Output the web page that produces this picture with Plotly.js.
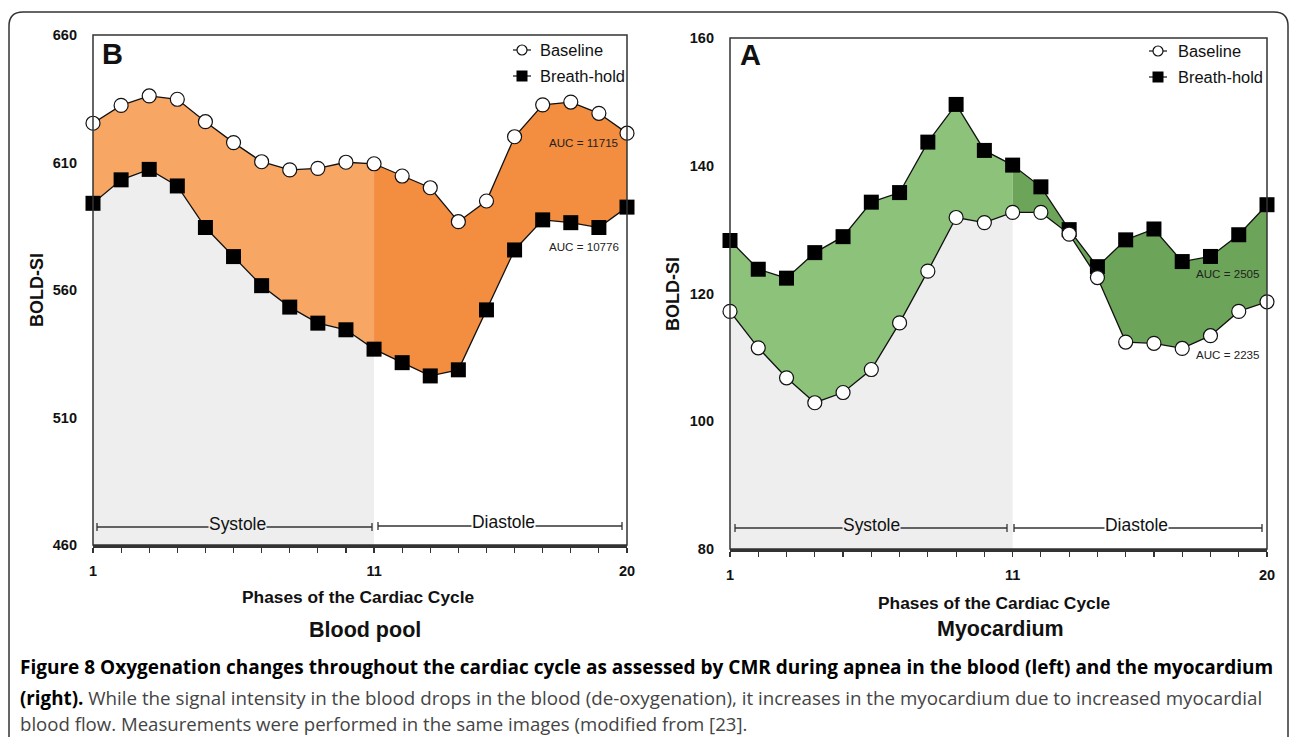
<!DOCTYPE html>
<html>
<head>
<meta charset="utf-8">
<script src="https://cdn.plot.ly/plotly-3.0.1.min.js"></script>
<style>
  html, body { margin: 0; padding: 0; background: #ffffff; }
  #chart { width: 1290px; height: 737px; }
</style>
</head>
<body>
<div id="chart"></div>
<script>
// ---- data ----
var phases = [1, 2, 3, 4, 5, 6, 7, 8, 9, 10, 11, 12, 13, 14, 15, 16, 17, 18, 19, 20];
var xTickLabels = ['1', '', '', '', '', '', '', '', '', '', '11', '', '', '', '', '', '', '', '', '20'];

var bloodBaseline   = [625.4, 632.4, 636.1, 634.8, 626.0, 617.8, 610.3, 607.1, 607.7, 610.1, 609.5, 604.7, 600.1, 586.8, 594.9, 620.1, 632.6, 633.7, 629.3, 621.5];
var bloodBreathHold = [594.0, 603.2, 607.3, 600.8, 584.5, 573.1, 561.7, 553.3, 547.0, 544.4, 536.8, 531.5, 526.3, 528.7, 552.2, 575.7, 587.5, 586.4, 584.5, 592.5];

var myoBaseline     = [117.2, 111.5, 106.8, 102.9, 104.5, 108.1, 115.4, 123.5, 131.9, 131.1, 132.7, 132.7, 129.3, 122.5, 112.4, 112.2, 111.4, 113.4, 117.2, 118.7];
var myoBreathHold   = [128.3, 123.8, 122.4, 126.4, 128.9, 134.3, 135.8, 143.7, 149.6, 142.4, 140.1, 136.7, 130.0, 124.2, 128.4, 130.1, 125.0, 125.8, 129.2, 133.9];

var bloodTicks = [460, 510, 560, 610, 660];
var myoTicks = [80, 100, 120, 140, 160];

var seriesNames = ['Baseline', 'Breath-hold'];
var aucBlood = ['AUC = 11715', 'AUC = 10776'];
var aucMyo = ['AUC = 2505', 'AUC = 2235'];

// ---- font selection: use a real condensed face if one exists, else Liberation Sans fitted to width ----
var ctx = document.createElement('canvas').getContext('2d');
function measure(text, family, weight, stretch, size) {
  ctx.font = (weight || 'normal') + ' ' + (size || 100) + 'px ' + family;
  try { ctx.fontStretch = stretch || 'normal'; } catch (e) {}
  return ctx.measureText(text).width;
}
var probe = 'Breath-hold Phases of the Cardiac Cycle 0123456789';
var baseFam = '"Liberation Sans", Arial, sans-serif';
var wBase = measure(probe, baseFam, 'normal', 'normal');
var FONT = {family: baseFam, stretch: 'normal'};
var condensed = false;
(function () {
  var wc = measure(probe, baseFam, 'normal', 'condensed');
  if (wc / wBase < 0.9 && wc / wBase > 0.7) { FONT = {family: baseFam, stretch: 'condensed'}; condensed = true; return; }
  var names = ['Liberation Sans Narrow', 'Arial Narrow'];
  for (var i = 0; i < names.length; i++) {
    var f = '"' + names[i] + '", "Liberation Sans", sans-serif';
    var r = measure(probe, f, 'normal', 'normal') / wBase;
    if (r > 0.75 && r < 0.88) { FONT = {family: f, stretch: 'normal'}; condensed = true; return; }
  }
})();
// with a normal-width face, enlarge a little beyond the width fit to approach the reference text height
function fit(text, weight, targetW, grow) {
  var g = condensed ? 1 : grow;
  return Math.round(100 * g * targetW / measure(text, FONT.family, weight, FONT.stretch) * 100) / 100;
}
var SZ = {
  tick: fit('660', 'bold', 22, 1.1),
  legend: fit('Breath-hold', 'normal', 81, 1.05),
  auc: fit('AUC = 11715', 'normal', 64, 1.08),
  phase: fit('Systole', 'normal', 53, 1.08),
  xtitle: fit('Phases of the Cardiac Cycle', 'bold', 215, 1.08)
};
function nf(size, color, weight) {
  return {family: FONT.family, stretch: FONT.stretch, size: size, color: color || '#111', weight: weight || 'normal'};
}
var SANS = '"Liberation Sans", Arial, sans-serif';
var CAP = '"Open Sans", "Noto Sans", sans-serif';

// ---- helpers ----
var W = 1290, H = 737;
function px(x) { return x / W; }
function py(y) { return 1 - y / H; }

var sysEnd = 11;
var sysX = phases.slice(0, sysEnd), diaX = phases.slice(sysEnd - 1);

function panelTraces(xa, ya, base, hold, lowerIsHold, cLight, cDark) {
  var lower = lowerIsHold ? hold : base;
  var upper = lowerIsHold ? base : hold;
  var inv = {width: 0, color: 'rgba(0,0,0,0)'};
  var t = [];
  t.push({x: sysX, y: lower.slice(0, sysEnd), xaxis: xa, yaxis: ya, type: 'scatter', mode: 'lines',
          line: inv, fill: 'tozeroy', fillcolor: '#EEEEEE', hoverinfo: 'skip', showlegend: false});
  t.push({x: sysX, y: lower.slice(0, sysEnd), xaxis: xa, yaxis: ya, type: 'scatter', mode: 'lines',
          line: inv, hoverinfo: 'skip', showlegend: false});
  t.push({x: sysX, y: upper.slice(0, sysEnd), xaxis: xa, yaxis: ya, type: 'scatter', mode: 'lines',
          line: inv, fill: 'tonexty', fillcolor: cLight, hoverinfo: 'skip', showlegend: false});
  t.push({x: diaX, y: lower.slice(sysEnd - 1), xaxis: xa, yaxis: ya, type: 'scatter', mode: 'lines',
          line: inv, hoverinfo: 'skip', showlegend: false});
  t.push({x: diaX, y: upper.slice(sysEnd - 1), xaxis: xa, yaxis: ya, type: 'scatter', mode: 'lines',
          line: inv, fill: 'tonexty', fillcolor: cDark, hoverinfo: 'skip', showlegend: false});
  t.push({x: phases, y: hold, xaxis: xa, yaxis: ya, type: 'scatter', mode: 'lines+markers', name: seriesNames[1],
          line: {color: '#111111', width: 1.3},
          marker: {symbol: 'square', size: 15, color: '#000000', line: {width: 0}}, showlegend: false, cliponaxis: false});
  t.push({x: phases, y: base, xaxis: xa, yaxis: ya, type: 'scatter', mode: 'lines+markers', name: seriesNames[0],
          line: {color: '#111111', width: 1.3},
          marker: {symbol: 'circle', size: 14, color: '#ffffff', line: {width: 1.2, color: '#111111'}}, showlegend: false, cliponaxis: false});
  return t;
}

var data = [].concat(
  panelTraces('x', 'y', bloodBaseline, bloodBreathHold, true, '#F7A664', '#F38D40'),
  panelTraces('x2', 'y2', myoBaseline, myoBreathHold, false, '#8DC27B', '#6CA459')
);

var P1 = {l: 93, r: 627, t: 35, b: 545};
var P2 = {l: 730, r: 1267, t: 38, b: 549};

function xaxisDef(P) {
  return {domain: [px(P.l), px(P.r)], range: [1, 20], tickvals: phases, ticktext: xTickLabels,
          ticks: 'outside', ticklen: 5, tickwidth: 1.2, tickcolor: '#333',
          showline: true, linewidth: 2.5, linecolor: '#333', showgrid: false, zeroline: false,
          tickfont: nf(SZ.tick, '#111', 'bold'), ticklabelstandoff: 6, fixedrange: true};
}
function yaxisDef(P, ticks, range) {
  return {domain: [py(P.b), py(P.t)], range: range, tickvals: ticks, ticks: '',
          showline: false, showgrid: false, zeroline: false,
          tickfont: nf(SZ.tick, '#111', 'bold'), ticklabelstandoff: 15, fixedrange: true};
}

var shapes = [];
shapes.push({type: 'path', xref: 'paper', yref: 'paper', layer: 'above',
  path: 'M ' + px(9) + ',' + py(737) + ' L ' + px(9) + ',' + py(26) + ' Q ' + px(9) + ',' + py(12) + ' ' + px(23) + ',' + py(12) +
        ' L ' + px(1274) + ',' + py(12) + ' Q ' + px(1288) + ',' + py(12) + ' ' + px(1288) + ',' + py(26) + ' L ' + px(1288) + ',' + py(737),
  line: {color: '#333', width: 1.5}});
[P1, P2].forEach(function (P) {
  shapes.push({type: 'rect', xref: 'paper', yref: 'paper', layer: 'above',
    x0: px(P.l), x1: px(P.r), y0: py(P.b), y1: py(P.t), line: {color: '#333', width: 1.5}});
});

function phaseBar(x0, x1, y) {
  var st = {color: '#333', width: 1.3};
  shapes.push({type: 'line', xref: 'paper', yref: 'paper', layer: 'above', x0: px(x0), x1: px(x1), y0: py(y), y1: py(y), line: st});
  shapes.push({type: 'line', xref: 'paper', yref: 'paper', layer: 'above', x0: px(x0), x1: px(x0), y0: py(y - 4), y1: py(y + 4), line: st});
  shapes.push({type: 'line', xref: 'paper', yref: 'paper', layer: 'above', x0: px(x1), x1: px(x1), y0: py(y - 4), y1: py(y + 4), line: st});
}
phaseBar(97, 372, 527);
phaseBar(378, 622, 526);
phaseBar(735, 1007, 528);
phaseBar(1014, 1262, 528);

function legendMarks(x, yb, yh) {
  shapes.push({type: 'line', xref: 'paper', yref: 'paper', layer: 'above', x0: px(x - 9), x1: px(x + 9), y0: py(yb), y1: py(yb), line: {color: '#111', width: 1.2}});
  shapes.push({type: 'circle', xref: 'paper', yref: 'paper', layer: 'above', x0: px(x - 5), x1: px(x + 5), y0: py(yb + 5), y1: py(yb - 5), fillcolor: '#fff', line: {color: '#111', width: 1.2}});
  shapes.push({type: 'line', xref: 'paper', yref: 'paper', layer: 'above', x0: px(x - 9), x1: px(x + 9), y0: py(yh), y1: py(yh), line: {color: '#111', width: 1.2}});
  shapes.push({type: 'rect', xref: 'paper', yref: 'paper', layer: 'above', x0: px(x - 5.5), x1: px(x + 5.5), y0: py(yh + 5.5), y1: py(yh - 5.5), fillcolor: '#000', line: {width: 0}});
}
legendMarks(522, 50, 76);
legendMarks(1158, 51, 77);

var annotations = [];
function ann(text, x, y, opts) {
  var a = {text: text, x: px(x), y: py(y), xref: 'paper', yref: 'paper', showarrow: false,
           xanchor: 'center', yanchor: 'middle', font: nf(16)};
  for (var k in opts) a[k] = opts[k];
  annotations.push(a);
}

ann('<b>B</b>', 112, 54, {font: {family: SANS, size: 29, color: '#111'}});
ann('<b>A</b>', 750, 55, {font: {family: SANS, size: 29, color: '#111'}});
ann(seriesNames[0], 538, 50, {xanchor: 'left', font: nf(SZ.legend)});
ann(seriesNames[1], 538, 76, {xanchor: 'left', font: nf(SZ.legend)});
ann(seriesNames[0], 1176, 51, {xanchor: 'left', font: nf(SZ.legend)});
ann(seriesNames[1], 1176, 77, {xanchor: 'left', font: nf(SZ.legend)});
ann(aucBlood[0], 620, 142, {xanchor: 'right', font: nf(SZ.auc, '#222')});
ann(aucBlood[1], 621, 247, {xanchor: 'right', font: nf(SZ.auc, '#222')});
ann(aucMyo[0], 1261, 273, {xanchor: 'right', font: nf(SZ.auc, '#222')});
ann(aucMyo[1], 1261, 355, {xanchor: 'right', font: nf(SZ.auc, '#222')});
ann('Systole', 237, 524, {bgcolor: '#EEEEEE', borderpad: 0, font: nf(SZ.phase)});
ann('Diastole', 503, 522, {bgcolor: '#ffffff', borderpad: 0, font: nf(SZ.phase)});
ann('Systole', 871, 525, {bgcolor: '#EEEEEE', borderpad: 0, font: nf(SZ.phase)});
ann('Diastole', 1136, 525, {bgcolor: '#ffffff', borderpad: 0, font: nf(SZ.phase)});
ann('<b>BOLD-SI</b>', 37, 290, {textangle: -90, font: {family: SANS, size: 18, color: '#111'}});
ann('<b>BOLD-SI</b>', 673, 294, {textangle: -90, font: {family: SANS, size: 18, color: '#111'}});
ann('<b>Phases of the Cardiac Cycle</b>', 358, 597, {font: nf(SZ.xtitle)});
ann('<b>Phases of the Cardiac Cycle</b>', 994, 603, {font: nf(SZ.xtitle)});
ann('<b>Blood pool</b>', 365, 630, {font: {family: SANS, size: 21.5, color: '#111'}});
ann('<b>Myocardium</b>', 1000, 629, {font: {family: SANS, size: 21.5, color: '#111'}});
ann('<b>Figure 8 Oxygenation changes throughout the cardiac cycle as assessed by CMR during apnea in the blood (left) and the myocardium</b>',
    18, 667, {xanchor: 'left', font: {family: CAP, size: 19, color: '#000'}});
ann('<b>(right).</b><span style="color:#444"> While the signal intensity in the blood drops in the blood (de-oxygenation), it increases in the myocardium due to increased myocardial</span>',
    18, 697, {xanchor: 'left', font: {family: CAP, size: 18.75, color: '#000'}});
ann('<span style="color:#444">blood flow. Measurements were performed in the same images (modified from [23].</span>',
    18, 723, {xanchor: 'left', font: {family: CAP, size: 18.6, color: '#000'}});

var layout = {
  width: W, height: H,
  margin: {l: 0, r: 0, t: 0, b: 0},
  paper_bgcolor: '#ffffff', plot_bgcolor: '#ffffff',
  showlegend: false,
  xaxis: xaxisDef(P1), yaxis: yaxisDef(P1, bloodTicks, [460, 660]),
  xaxis2: Object.assign(xaxisDef(P2), {anchor: 'y2'}),
  yaxis2: Object.assign(yaxisDef(P2, myoTicks, [80, 160]), {anchor: 'x2'}),
  shapes: shapes,
  annotations: annotations
};
layout.xaxis.anchor = 'y';
layout.yaxis.anchor = 'x';

Plotly.newPlot('chart', data, layout, {displayModeBar: false, staticPlot: true});
</script>
</body>
</html>
